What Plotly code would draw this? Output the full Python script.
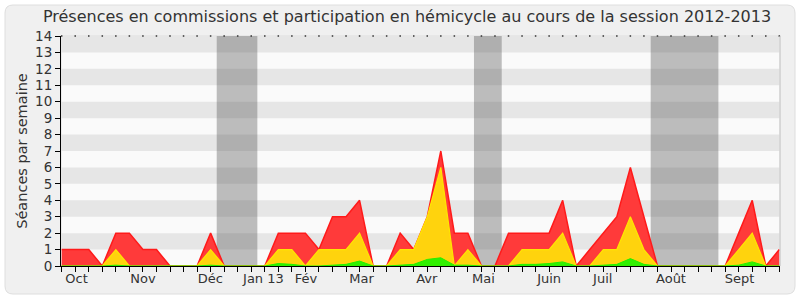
import plotly.graph_objects as go

# ---- data (weekly, index 0 = first week of October 2012) ----
commissions_total = [1, 1, 1, 0, 2, 2, 1, 1, 0, 0, 0, 2, 0, 0, 0, 0, 2, 2, 2, 1,
                     3, 3, 4, 0, 0, 2, 1, 3, 7, 2, 2, 0, 0, 2, 2, 2, 2, 4, 0, 1,
                     2, 3, 6, 3, 0, 0, 0, 0, 0, 0, 2, 4, 0, 1]
hemicycle = [0, 0, 0, 0, 1, 0, 0, 0, 0, 0, 0, 1, 0, 0, 0, 0, 1, 1, 0, 1,
             1, 1, 2, 0, 0, 1, 1, 3, 6, 0, 1, 0, 0, 0, 1, 1, 1, 2, 0, 0,
             1, 1, 3, 1, 0, 0, 0, 0, 0, 0, 1, 2, 0, 0]
interventions = [0, 0, 0, 0, 0.05, 0, 0, 0, 0, 0, 0, 0.05, 0, 0, 0, 0, 0.15, 0.1, 0, 0,
                 0.05, 0.1, 0.3, 0, 0, 0.05, 0.1, 0.4, 0.5, 0.05, 0.05, 0, 0, 0, 0.1, 0.1, 0.15, 0.25, 0, 0,
                 0.05, 0.1, 0.45, 0.1, 0, 0, 0, 0, 0, 0, 0.05, 0.25, 0, 0]
month_labels = ["Oct", "Nov", "Déc", "Jan 13", "Fév", "Mar", "Avr", "Mai",
                "Juin", "Juil", "Août", "Sept"]
month_positions = [1.1, 6.0, 10.97, 14.9, 18.05, 22.15, 26.96, 31.15,
                   36.0, 39.96, 45.0, 50.07]
vacances = [(11.45, 14.45), (30.45, 32.5), (43.5, 48.5)]
y_ticks = list(range(0, 15))

weeks = list(range(len(commissions_total)))

fig = go.Figure()

fig.add_trace(go.Scatter(x=weeks, y=commissions_total, mode="lines", fill="tozeroy",
                         line=dict(color="#ff1a1a", width=1.5), fillcolor="#ff3a3a",
                         hoverinfo="skip", showlegend=False))
fig.add_trace(go.Scatter(x=weeks, y=hemicycle, mode="lines", fill="tozeroy",
                         line=dict(color="#ffe600", width=1.2), fillcolor="#ffd30d",
                         hoverinfo="skip", showlegend=False))
fig.add_trace(go.Scatter(x=weeks, y=interventions, mode="lines", fill="tozeroy",
                         line=dict(color="#22ee00", width=1), fillcolor="#30f000",
                         hoverinfo="skip", showlegend=False))
# dotted top line
fig.add_trace(go.Scatter(x=weeks, y=[14] * len(weeks), mode="markers",
                         marker=dict(color="#333", size=1.5, symbol="square"),
                         cliponaxis=False, hoverinfo="skip", showlegend=False))

L, R, T, B = 61, 20, 36, 34
W, H = 800, 300
pw, ph = W - L - R, H - T - B


def px2x(px):
    return (px - L) / pw


def py2y(py):
    return (H - B - py) / ph


# rounded frame with hole over plot area
x0, x1, y0, y1 = px2x(5), px2x(795), py2y(5), py2y(294)
rx, ry = 8 / pw, 8 / ph
outer = (f"M{x0+rx},{y0} L{x1-rx},{y0} Q{x1},{y0} {x1},{y0-ry} "
         f"L{x1},{y1+ry} Q{x1},{y1} {x1-rx},{y1} L{x0+rx},{y1} "
         f"Q{x0},{y1} {x0},{y1+ry} L{x0},{y0-ry} Q{x0},{y0} {x0+rx},{y0} Z ")
inner = "M0,0 L0,1 L1,1 L1,0 Z"
shapes = [dict(type="path", xref="paper", yref="paper", path=outer + inner,
               fillcolor="#f0f0f0", line=dict(color="#dedede", width=1), layer="below")]

for k in range(1, 14, 2):
    shapes.append(dict(type="rect", xref="paper", yref="y", x0=0, x1=1, y0=k, y1=k + 1,
                       fillcolor="#e6e6e6", line=dict(width=0), layer="below"))
for a, b in vacances:
    shapes.append(dict(type="rect", xref="x", yref="paper", x0=a, x1=b, y0=0, y1=1,
                       fillcolor="rgba(60,60,60,0.32)", line=dict(width=0), layer="below"))
shapes.append(dict(type="line", xref="paper", yref="paper", x0=1, x1=1, y0=0, y1=1,
                   line=dict(color="#c8c8c8", width=1), layer="above"))

fig.update_layout(
    width=W, height=H,
    margin=dict(l=L, r=R, t=T, b=B),
    paper_bgcolor="white",
    plot_bgcolor="#fafafa",
    font=dict(family="DejaVu Sans", size=13, color="#333"),
    title=dict(text="Présences en commissions et participation en hémicycle au cours de la session 2012-2013",
               x=407 / W, xanchor="center", y=1 - 16 / H, yanchor="middle",
               font=dict(family="DejaVu Sans", size=16, color="#333")),
    shapes=shapes,
    xaxis=dict(range=[-0.05, 53.05], tickvals=month_positions, ticktext=month_labels,
               ticks="", ticklen=0, showgrid=False, zeroline=False,
               showline=True, linecolor="black", linewidth=1,
               tickfont=dict(size=13, color="#333"),
               minor=dict(tickmode="linear", tick0=0, dtick=1, ticks="outside",
                          ticklen=5, tickcolor="black", showgrid=False)),
    yaxis=dict(range=[0, 14], tickvals=y_ticks, ticks="outside", ticklen=5,
               tickcolor="black", showgrid=False, zeroline=False,
               showline=True, linecolor="black", linewidth=1,
               tickfont=dict(size=13.5, color="#333"),
               title=dict(text="Séances par semaine", font=dict(size=14.5, color="#333"),
                          standoff=4)),
)

fig.write_html("out.html")
